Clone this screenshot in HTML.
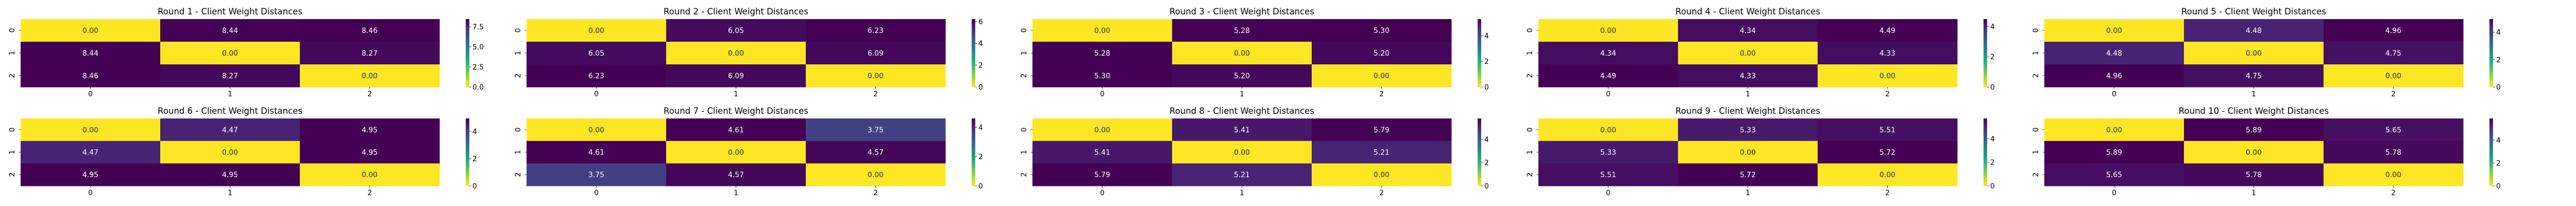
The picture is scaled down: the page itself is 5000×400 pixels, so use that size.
<!DOCTYPE html>
<html><head><meta charset="utf-8"><style>
html,body{margin:0;padding:0;background:#fff;}
svg{display:block;font-family:"DejaVu Sans","Liberation Sans",sans-serif;}
</style></head><body>
<svg id="chart" width="5000" height="400" viewBox="0 0 5000 400" xmlns="http://www.w3.org/2000/svg"></svg>
<script>
const rounds = [1,2,3,4,5,6,7,8,9,10];
const round1 = [[0,8.44,8.46],[8.44,0,8.27],[8.46,8.27,0]];
const round2 = [[0,6.05,6.23],[6.05,0,6.09],[6.23,6.09,0]];
const round3 = [[0,5.28,5.30],[5.28,0,5.20],[5.30,5.20,0]];
const round4 = [[0,4.34,4.49],[4.34,0,4.33],[4.49,4.33,0]];
const round5 = [[0,4.48,4.96],[4.48,0,4.75],[4.96,4.75,0]];
const round6 = [[0,4.47,4.95],[4.47,0,4.95],[4.95,4.95,0]];
const round7 = [[0,4.61,3.75],[4.61,0,4.57],[3.75,4.57,0]];
const round8 = [[0,5.41,5.79],[5.41,0,5.21],[5.79,5.21,0]];
const round9 = [[0,5.33,5.51],[5.33,0,5.72],[5.51,5.72,0]];
const round10 = [[0,5.89,5.65],[5.89,0,5.78],[5.65,5.78,0]];
const clientLabels = ["0","1","2"];
const matrices = [round1,round2,round3,round4,round5,round6,round7,round8,round9,round10];

const NS = "http://www.w3.org/2000/svg";
const svg = document.getElementById('chart');
const VIR = ["#440154","#482475","#414487","#355f8d","#2a788e","#21918c","#22a884","#44bf70","#7ad151","#bddf26","#fde725"];
function hex(h){return [1,3,5].map(i=>parseInt(h.substr(i,2),16));}
function viridis(t){t=Math.max(0,Math.min(1,t));const p=t*10,i=Math.min(9,Math.floor(p)),f=p-i;const a=hex(VIR[i]),b=hex(VIR[i+1]);return a.map((v,k)=>Math.round(v+(b[k]-v)*f));}
function rgb(c){return `rgb(${c[0]},${c[1]},${c[2]})`;}
function lum(c){const l=c.map(v=>{v/=255;return v<=0.03928?v/12.92:Math.pow((v+0.055)/1.055,2.4);});return 0.2126*l[0]+0.7152*l[1]+0.0722*l[2];}
function el(tag,attrs,parent){const e=document.createElementNS(NS,tag);for(const k in attrs)e.setAttribute(k,attrs[k]);(parent||svg).appendChild(e);return e;}
function niceStep(max){for(const s of [0.5,1,2,2.5,5,10]){if(Math.floor(max/s+1e-9)+1<=4)return s;}return 10;}

matrices.forEach((m,idx)=>{
  const col=idx%5,row=Math.floor(idx/5);
  const left=40+982*col, top=row===0?37:230, W=813, H=row===0?132:131;
  const cw=W/3, ch=H/3;
  const vmax=Math.max(...m.flat());
  const g=el('g',{});
  
  
  const xScale=j=>left+j*cw, yScale=i=>top+i*ch;
  const t=el('text',{x:left+W/2,y:top-9,'text-anchor':'middle','font-size':'16.5',fill:'#000'},g);
  t.textContent='Round '+rounds[idx]+' - Client Weight Distances';
  
  
  m.forEach((r,i)=>r.forEach((v,j)=>{
    const c=viridis(1-v/vmax);
    const rc=el('rect',{x:xScale(j),y:yScale(i),width:cw+0.5,height:ch+0.5,fill:rgb(c)},g);
    
    
    const tx=el('text',{x:xScale(j)+cw/2,y:yScale(i)+ch/2+5,'text-anchor':'middle','font-size':'13.9',fill:lum(c)>0.408?'#262626':'#ffffff'},g);
    tx.textContent=v.toFixed(2);
    
    
  }));
  clientLabels.forEach((lb,k)=>{
    const xc=xScale(k)+cw/2;
    el('line',{x1:xc,x2:xc,y1:top+H,y2:top+H+3.5,stroke:'#000','stroke-width':0.8},g);
    const xl=el('text',{x:xc,y:top+H+18,'text-anchor':'middle','font-size':'13.9',fill:'#000'},g);
    xl.textContent=lb;
    
    
    const yc=yScale(k)+ch/2;
    el('line',{x1:left-3.5,x2:left,y1:yc,y2:yc,stroke:'#000','stroke-width':0.8},g);
    const yl=el('text',{x:0,y:0,'text-anchor':'middle','font-size':'13.9',fill:'#000',transform:`translate(${left-12},${yc}) rotate(-90)`},g);
    yl.textContent=lb;
    
    
  });
  const cbx=left+864, cbw=7;
  const defs=el('defs',{},g);
  const gr=el('linearGradient',{id:'cb'+idx,x1:0,y1:1,x2:0,y2:0},defs);
  for(let s=0;s<=10;s++){el('stop',{offset:s/10,'stop-color':rgb(viridis(1-s/10))},gr);}
  const cb=el('rect',{x:cbx,y:top,width:cbw,height:H,fill:`url(#cb${idx})`},g);
  
  
  const step=niceStep(vmax);
  const dec=(step%1!==0)?1:0;
  for(let v=0;v<=vmax+1e-9;v+=step){
    const y=top+H-(v/vmax)*H;
    el('line',{x1:cbx+cbw,x2:cbx+cbw+3.5,y1:y,y2:y,stroke:'#000','stroke-width':0.8},g);
    const ct=el('text',{x:cbx+cbw+6,y:y+5,'font-size':'13.9',fill:'#000'},g);
    ct.textContent=v.toFixed(dec);
    
    
  }
});
</script>
</body></html>
